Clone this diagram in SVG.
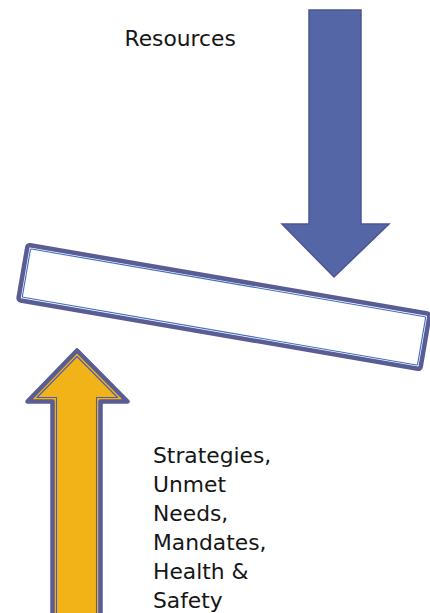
<svg xmlns="http://www.w3.org/2000/svg" width="430" height="613" viewBox="0 0 430 613">
  <style>
    .label { font-family: "DejaVu Sans", "Liberation Sans", sans-serif; font-size: 21.8px; fill: #161616; }
    .outline { fill: none; stroke: #5a5c94; stroke-width: 4.5; stroke-linejoin: round; }
    .inner-line { fill: none; stroke: #3f6fc2; stroke-width: 1.1; stroke-linejoin: round; }
    .yellow { fill: #f1b318; }
  </style>
  <rect width="430" height="613" fill="#ffffff"/>

  <!-- Resources: downward arrow -->
  <g id="resources">
    <path d="M309,10 L361,10 L361,224 L389,224 L334,277 L282,224 L309,224 Z"
          fill="#5466a6" stroke="#4c5592" stroke-width="1.5" stroke-linejoin="miter"/>
    <text class="label" x="124.5" y="46">Resources</text>
  </g>

  <!-- Tilted balance bar -->
  <g id="balance-bar" transform="translate(224,307) rotate(9.76)">
    <rect x="-204" y="-28" width="408" height="56" rx="2.5" fill="#ffffff"/>
    <rect class="outline" x="-204" y="-28" width="408" height="56" rx="2.5"/>
    <rect class="inner-line" x="-200.5" y="-24.5" width="401" height="49" rx="1"/>
  </g>

  <!-- Drivers: upward arrow -->
  <g id="drivers">
    <path class="yellow" d="M52.5,620 L52.5,401.5 L27.5,401.5 L77,350.5 L127.5,401.5 L100.5,401.5 L100.5,620 Z"/>
    <path class="outline" d="M52.5,620 L52.5,401.5 L27.5,401.5 L77,350.5 L127.5,401.5 L100.5,401.5 L100.5,620 Z"/>
    <path class="inner-line" style="stroke:#4a5cb8" d="M56.5,620 L56.5,397.5 L37,397.5 L77,356.5 L117.5,397.5 L96.5,397.5 L96.5,620"/>
    <text class="label" x="153" y="462.5">Strategies,</text>
    <text class="label" x="153" y="491.5">Unmet</text>
    <text class="label" x="153" y="520.5">Needs,</text>
    <text class="label" x="153" y="550">Mandates,</text>
    <text class="label" x="153" y="579">Health &amp;</text>
    <text class="label" x="153" y="607.5">Safety</text>
  </g>
</svg>
